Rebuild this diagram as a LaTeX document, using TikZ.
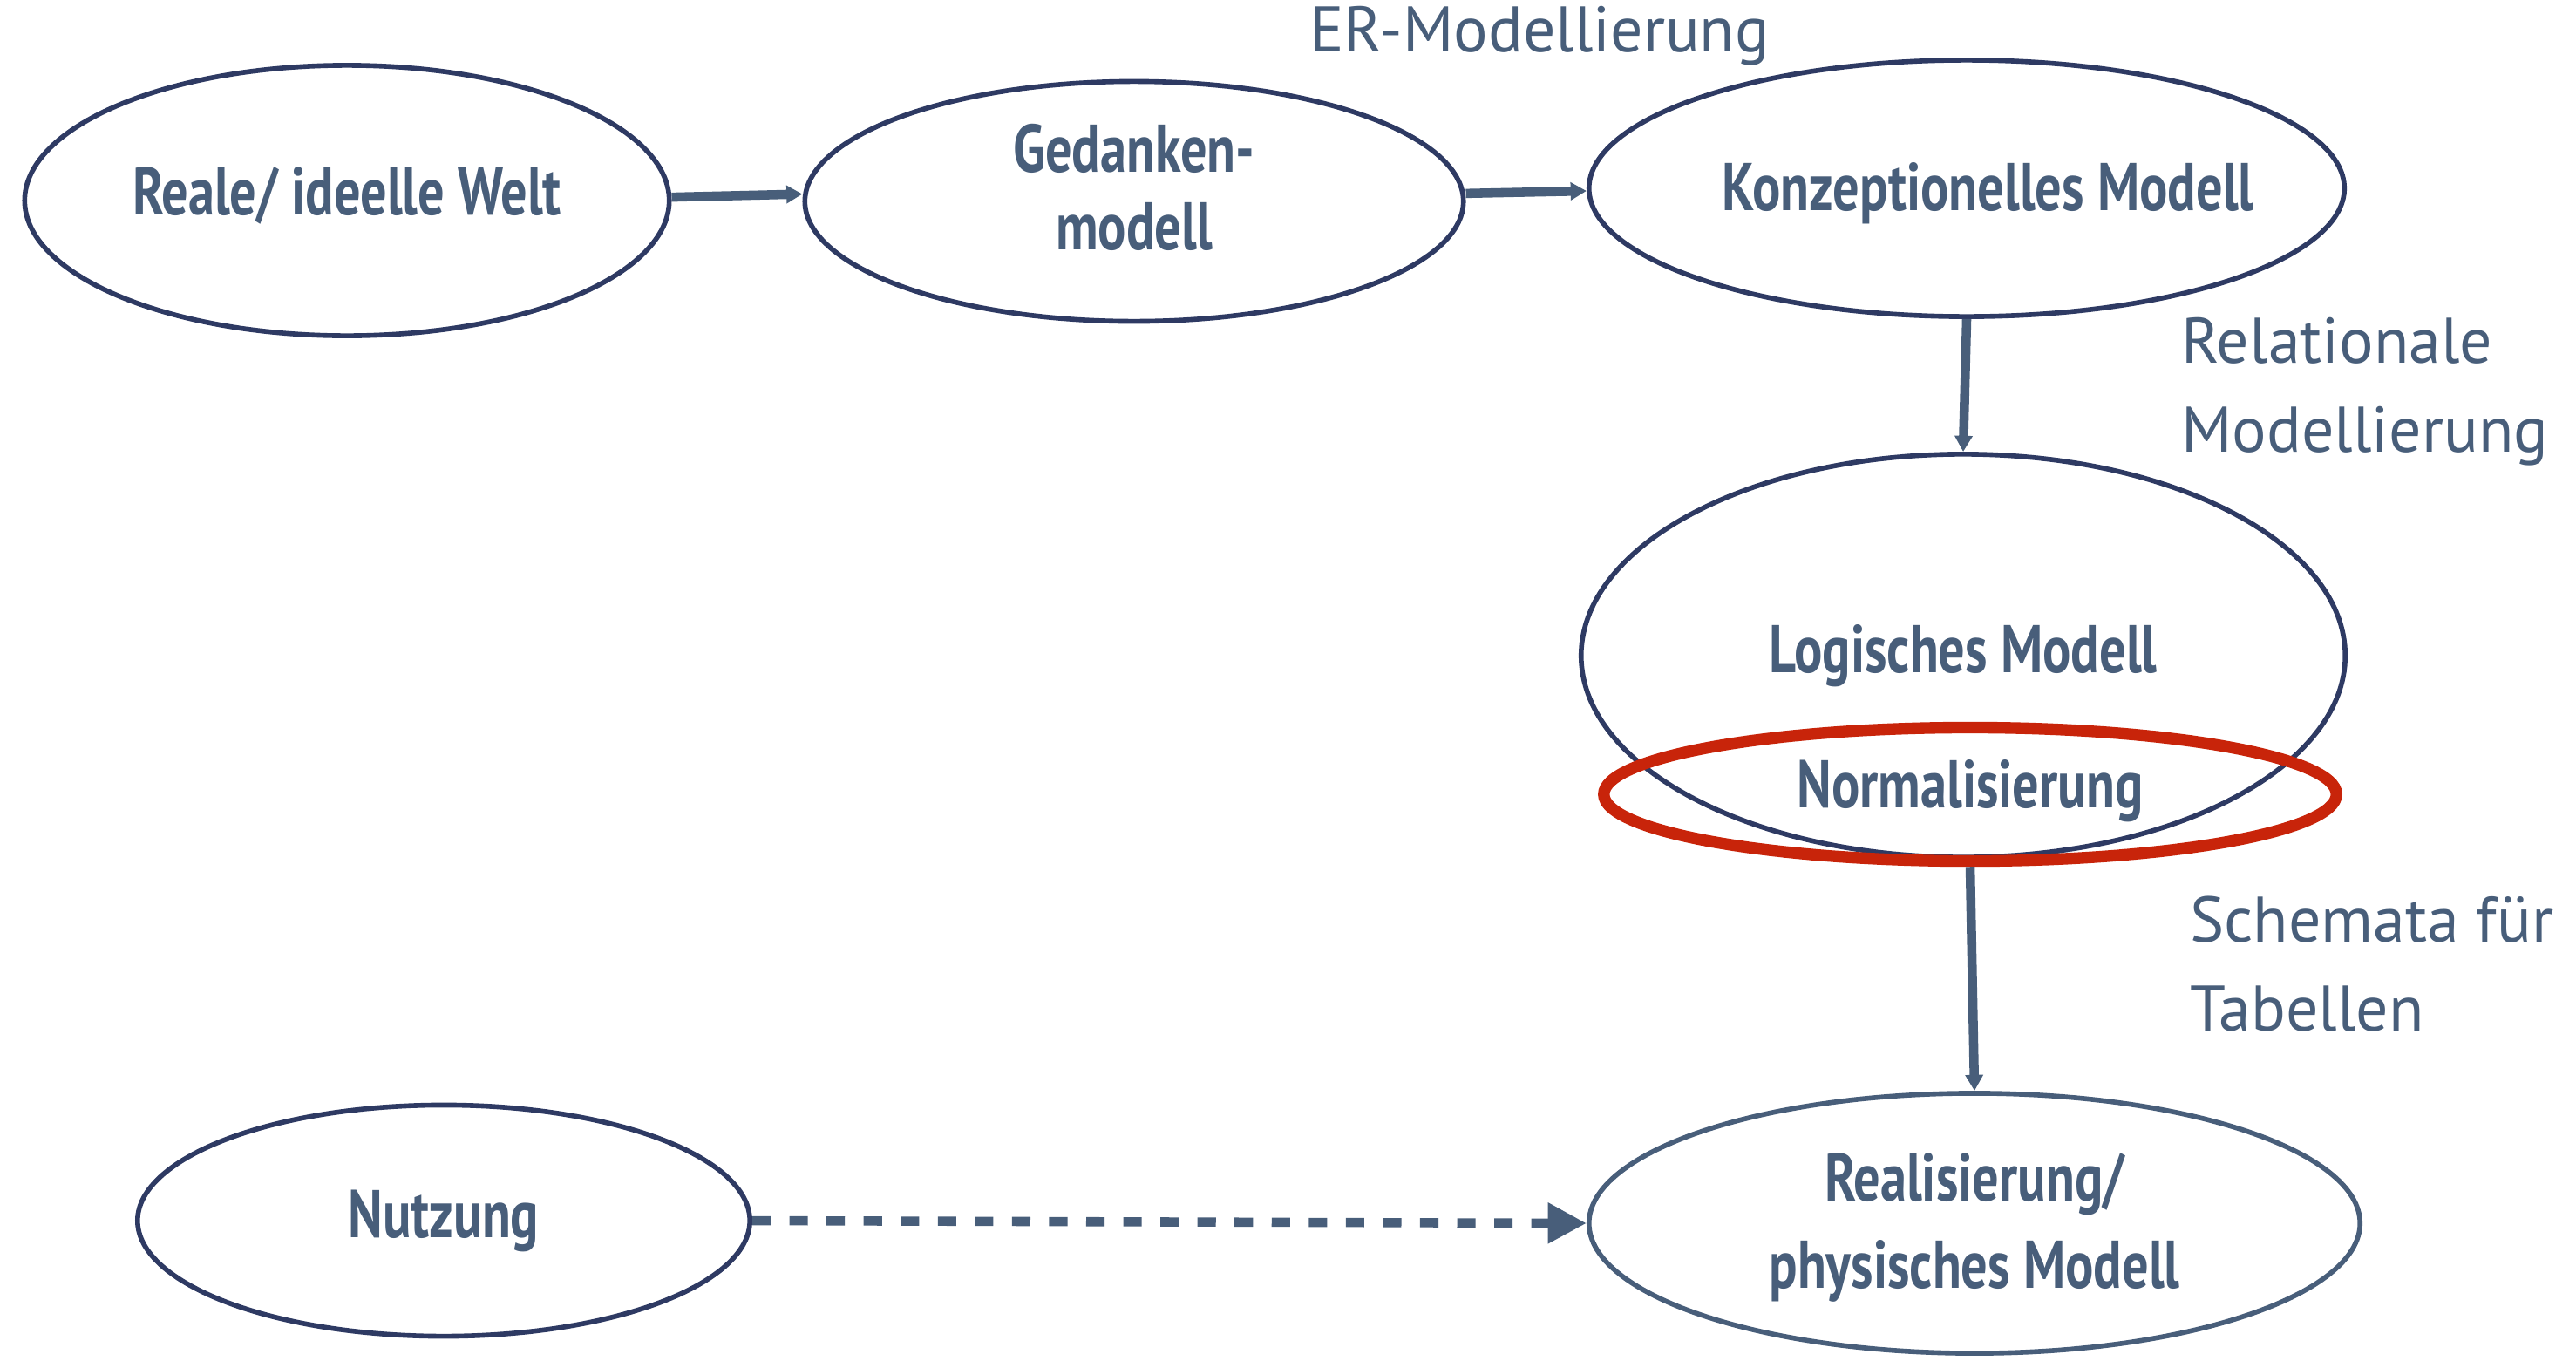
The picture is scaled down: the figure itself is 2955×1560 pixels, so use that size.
\documentclass[tikz,border=0pt]{standalone}
\usepackage{fontspec}
\setmainfont{PT Sans}
\newfontfamily\condbf[FakeStretch=0.78]{PT Sans Bold}
\usetikzlibrary{shapes.geometric,arrows.meta}
\definecolor{slate}{RGB}{72,94,122}
\definecolor{navy}{RGB}{46,58,99}
\definecolor{signalred}{RGB}{200,36,10}

\begin{document}
\begin{tikzpicture}[x=0.01cm,y=-0.01cm,
    modell/.style ={ellipse, draw=navy, line width=1.6pt, inner sep=0pt},
    inschrift/.style ={text=slate, align=center, inner sep=0pt,
      font=\condbf\fontsize{22}{25.3}\selectfont},
    beschriftung/.style ={text=slate, align=left, font=\fontsize{21}{29}\selectfont},
    pfeil/.style ={draw=slate, line width=3pt, -{Triangle[length=5.2pt,width=5.6pt]}}]
   \useasboundingbox (0,0) rectangle (2955,1560);

   \node[modell, minimum width=7.39cm, minimum height=3.10cm,
     label={[inschrift, yshift=1.6pt]center:Reale/ ideelle Welt}] (welt)  at (398,230)  {};
   \node[modell, minimum width=7.55cm, minimum height=2.75cm,
     label={[inschrift, yshift=4.5pt]center:Gedanken-\\modell}] (gedanken)  at (1301,231)  {};
   \node[modell, minimum width=8.66cm, minimum height=2.94cm,
     label={[inschrift, xshift=7pt, yshift=-1.6pt]center:Konzeptionelles Modell}] (konz)  at (2256,216)  {};
   \node[modell, minimum width=8.76cm, minimum height=4.62cm,
     label={[inschrift]center:Logisches Modell}] (logisch)  at (2252,752)  {};
   \node[modell, draw=signalred, line width=3.8pt, minimum width=8.40cm, minimum height=1.53cm,
     label={[inschrift, yshift=1pt]center:Normalisierung}] (norm)  at (2260,911)  {};
   \node[modell, draw=slate, minimum width=8.84cm, minimum height=2.98cm,
     label={[inschrift, yshift=-1.3pt, font=\condbf\fontsize{22}{28.4}\selectfont]center:Realisierung/\\physisches Modell}] (real)  at (2265,1403)  {};
   \node[modell, minimum width=7.02cm, minimum height=2.65cm,
     label={[inschrift]center:Nutzung}] (nutzung)  at (509,1400)  {};

   \node[beschriftung] (er)  at (1766,41)  {ER-Modellierung};
   \node[beschriftung, anchor=west] (rel)  at (2490,449)  {Relationale\\Modellierung};
   \node[beschriftung, anchor=west] (schema)  at (2500,1106)  {Schemata für\\Tabellen};

   \draw[pfeil] ([yshift=1.1pt]welt.east) to ([yshift=2.4pt]gedanken.west);
   \draw[pfeil] ([yshift=2.6pt]gedanken.east) to ([yshift=-0.85pt]konz.west);
   \draw[pfeil] (konz.south) to (logisch.north);
   \draw[pfeil] (norm.south) to (real.north);
   \draw[pfeil, dash pattern=on 6pt off 6.1pt,
     -{Triangle[length=12.6pt,width=12.6pt]}] (nutzung.east) to (real.west);
 \end{tikzpicture}
\end{document}
